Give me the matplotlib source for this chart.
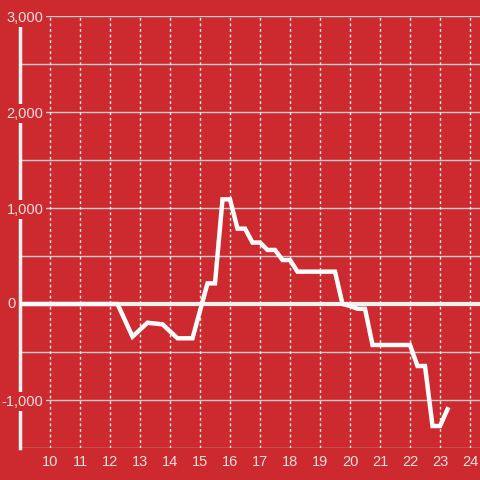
import matplotlib
matplotlib.use("Agg")
from matplotlib import pyplot as plt
from matplotlib.ticker import FixedLocator, FuncFormatter

# hours of the day and running total
hours = [9.0, 12.25, 12.75, 13.25, 13.75, 14.25, 14.75, 15.25, 15.5, 15.75,
         16.0, 16.25, 16.5, 16.75, 17.0, 17.25, 17.5, 17.75, 18.0, 18.25,
         19.5, 19.75, 20.0, 20.25, 20.5, 20.75, 22.0, 22.25, 22.5, 22.75,
         23.0, 23.25]
values = [0, 0, -340, -195, -212, -357, -357, 215, 215, 1090,
          1090, 785, 785, 640, 640, 563, 563, 458, 458, 337,
          337, 0, -20, -50, -50, -427, -427, -646, -646, -1271,
          -1271, -1097]

x_ticks = list(range(10, 25))
y_ticks = [-1000, 1000, 2000, 3000]

bg = '#cc2a2f'
txt = '#f4dede'
plt.rcParams['font.family'] = ['Liberation Sans', 'DejaVu Sans']

fig = plt.figure(figsize=(4.8, 4.8), dpi=100, facecolor=bg)
ax = fig.add_axes([20 / 480, 32 / 480, 460 / 480, 432 / 480])
ax.set_facecolor(bg)

ax.set_xlim(9.0, 24.333)
ax.set_ylim(-1500, 3000)

# grid
ax.yaxis.set_major_locator(FixedLocator(y_ticks))
ax.set_xticks(x_ticks)
for v in range(-1500, 3001, 500):
    ax.axhline(v, color='#cccccc', lw=1, zorder=1)
for t in x_ticks:
    ax.axvline(t, color='#eeeeee', lw=1, ls=(0, (2, 2)), zorder=1)
ax.axhline(0, color='#f2f2f2', lw=3, zorder=2)

ax.plot(hours, values, color='white', lw=3.2, zorder=3, solid_joinstyle='miter')

for s in ['top', 'right', 'bottom']:
    ax.spines[s].set_visible(False)
ax.spines['left'].set_color('#f2f2f2')
ax.spines['left'].set_linewidth(2.5)
ax.spines['left'].set_zorder(2)

ax.yaxis.set_major_formatter(FuncFormatter(lambda v, p: '{:,.0f}'.format(v)))
ax.tick_params(axis='y', length=0, pad=-17, labelsize=10.5, labelcolor=txt)
ax.tick_params(axis='x', length=0, pad=5, labelsize=10.5, labelcolor=txt)
for lbl in ax.get_yticklabels():
    lbl.set_bbox(dict(facecolor=bg, edgecolor='none', pad=2))
    lbl.set_zorder(5)
ax.yaxis.set_zorder(5)

# zero label sits left of the axis line
ax.text(-4.5 / 460, 0, '0', transform=ax.get_yaxis_transform(), ha='right',
        va='center', fontsize=10.5, color=txt, clip_on=False)

fig.savefig('out.png', dpi=100, facecolor=bg)
